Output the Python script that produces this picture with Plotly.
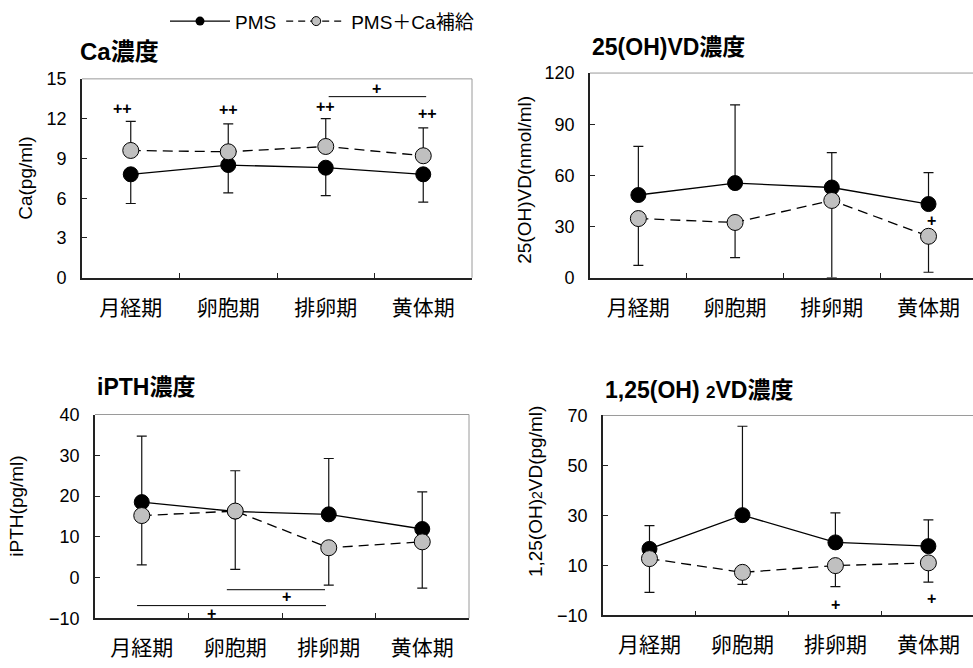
import plotly.graph_objects as go

# ---------------- data ----------------
phases = ["月経期", "卵胞期", "排卵期", "黄体期"]

# Ca
ca_pms = [7.8, 8.5, 8.3, 7.8]
ca_pms_sd = [2.2, 2.1, 2.1, 2.1]
ca_sup = [9.6, 9.5, 9.9, 9.2]
ca_sup_sd = [2.2, 2.1, 2.1, 2.1]

# 25(OH)VD
vd_pms = [48.5, 55.5, 52.9, 43.2]
vd_pms_sd = [28.5, 45.9, 20.5, 18.4]
vd_sup = [34.7, 32.4, 45.3, 24.3]
vd_sup_sd = [27.5, 20.6, 45.3, 21.1]

# iPTH
pth_pms = [18.5, 16.2, 15.5, 11.9]
pth_pms_sd = [16.2, 10.0, 13.7, 9.1]
pth_sup = [15.2, 16.3, 7.3, 8.75]
pth_sup_sd = [12.1, 14.3, 9.2, 11.35]

# 1,25(OH)2VD
dvd_pms = [16.6, 30.1, 19.2, 17.7]
dvd_pms_sd = [9.3, 35.6, 11.8, 10.5]
dvd_sup = [12.7, 7.2, 9.9, 11.0]
dvd_sup_sd = [13.5, 4.8, 8.4, 7.7]

# significance marks (text, x index, y value)
ca_marks = [("++", -0.08, 12.8), ("++", 1.0, 12.66), ("++", 2.0, 12.9), ("++", 3.04, 12.4), ("+", 2.52, 14.27)]
ca_brackets = [(2.03, 3.03, 13.66)]
vd_marks = [("+", 3.03, 33.4)]
pth_marks = [("+", 1.55, -4.7), ("+", 0.75, -8.9)]
pth_brackets = [(0.91, 1.96, -3.0), (-0.05, 1.97, -6.9)]
dvd_marks = [("+", 2.0, -5.5), ("+", 3.03, -3.4)]

W, H = 973, 668
FONT = "Liberation Sans, Noto Sans CJK JP, sans-serif"

def px(x):
    return x / W

def py(y):
    return 1 - y / H

fig = go.Figure()

panels = [
    ("x", "y", ca_pms, ca_pms_sd, "down", ca_sup, ca_sup_sd, "up"),
    ("x2", "y2", vd_pms, vd_pms_sd, "up", vd_sup, vd_sup_sd, "down"),
    ("x3", "y3", pth_pms, pth_pms_sd, "up", pth_sup, pth_sup_sd, "down"),
    ("x4", "y4", dvd_pms, dvd_pms_sd, "up", dvd_sup, dvd_sup_sd, "down"),
]

def err(sd, direction):
    zeros = [0] * len(sd)
    if direction == "up":
        return dict(type="data", symmetric=False, array=sd, arrayminus=zeros,
                    color="#111", thickness=1.2, width=5)
    return dict(type="data", symmetric=False, array=zeros, arrayminus=sd,
                color="#111", thickness=1.2, width=5)

for xa, ya, pv, psd, pdir, sv, ssd, sdir in panels:
    fig.add_trace(go.Scatter(
        x=phases, y=pv, xaxis=xa, yaxis=ya, mode="lines+markers",
        line=dict(color="#000", width=1.3),
        marker=dict(size=15, color="#000", line=dict(color="#000", width=1)),
        error_y=err(psd, pdir), showlegend=False, cliponaxis=False))
    fig.add_trace(go.Scatter(
        x=phases, y=sv, xaxis=xa, yaxis=ya, mode="lines+markers",
        line=dict(color="#000", width=1.3, dash="10px,6px"),
        marker=dict(size=16, color="#c0c0c0", line=dict(color="#000", width=1)),
        error_y=err(ssd, sdir), showlegend=False, cliponaxis=False))

# legend-only entries
fig.add_trace(go.Scatter(x=[None], y=[None], mode="lines+markers", name="PMS",
                         line=dict(color="#000", width=1.3),
                         marker=dict(size=9, color="#000")))
fig.add_trace(go.Scatter(x=[None], y=[None], mode="lines+markers", name="PMS＋Ca補給",
                         line=dict(color="#000", width=1.3, dash="7px,5px"),
                         marker=dict(size=9, color="#c0c0c0", line=dict(color="#000", width=1))))

axis_common = dict(showline=True, linecolor="#222", linewidth=1.6, ticks="inside",
                   ticklen=5, tickcolor="#222", showgrid=False, zeroline=False,
                   tickfont=dict(size=18, color="#000"))

dom = {
    "1": dict(x=[px(82), px(472)], y=[py(276), py(71)], xr=[-0.5, 3.5], yr=[0, 15], dt=3),
    "2": dict(x=[px(590), 1.0], y=[py(276), py(65)], xr=[-0.5, 3.46], yr=[0, 120], dt=30),
    "3": dict(x=[px(95), px(469)], y=[py(627), py(417)], xr=[-0.5, 3.5], yr=[-10, 40], dt=10),
    "4": dict(x=[px(603), 1.0], y=[py(624), py(418)], xr=[-0.5, 3.48], yr=[-10, 70], dt=20),
}

for k, d in dom.items():
    sfx = "" if k == "1" else k
    fig.layout["xaxis" + sfx] = dict(axis_common, domain=d["x"], range=d["xr"],
                                     type="category", tickson="boundaries",
                                     anchor="y" + sfx, ticklabelstandoff=10,
                                     tickfont=dict(size=21, color="#000"))
    fig.layout["yaxis" + sfx] = dict(axis_common, domain=d["y"], range=d["yr"],
                                     dtick=d["dt"], tick0=d["yr"][0],
                                     anchor="x" + sfx, ticklabelstandoff=10)
    xref = "x" + sfx + " domain"
    yref = "y" + sfx + " domain"
    fig.add_shape(type="line", xref=xref, yref=yref, x0=0, x1=1, y0=1, y1=1,
                  line=dict(color="#9a9a9a", width=1))
    if k in ("1", "3"):
        fig.add_shape(type="line", xref=xref, yref=yref, x0=1, x1=1, y0=0, y1=1,
                      line=dict(color="#9a9a9a", width=1))

# titles
titles = [
    ("Ca濃度", 78, 43, 24),
    ("25(OH)VD濃度", 590, 38, 23),
    ("iPTH濃度", 95, 389, 23),
    ("1,25(OH) <span style='font-size:17px'>2</span>VD濃度", 603, 392, 23),
]
for t, x, y, s in titles:
    fig.add_annotation(text="<b>" + t + "</b>", x=px(x), y=py(y), xref="paper", yref="paper",
                       xanchor="left", yanchor="middle", showarrow=False,
                       font=dict(size=s, color="#000"))

# y-axis titles
ytitles = [
    ("Ca(pg/ml)", 26, 174),
    ("25(OH)VD(nmol/ml)", 525, 175),
    ("iPTH(pg/ml)", 17, 512),
    ("1,25(OH)<span style='font-size:14px'>2</span>VD(pg/ml)", 535, 497),
]
for t, x, y in ytitles:
    fig.add_annotation(text=t, x=px(x), y=py(y), xref="paper", yref="paper",
                       xanchor="center", yanchor="middle", showarrow=False,
                       textangle=-90, font=dict(size=19, color="#000"))

# significance marks
def add_marks(marks, sfx):
    for t, x, y in marks:
        fig.add_annotation(text="<b>" + t + "</b>", x=x, y=y, xref="x" + sfx, yref="y" + sfx,
                           showarrow=False, font=dict(size=16, color="#000"))

def add_brackets(brs, sfx):
    for x0, x1, y in brs:
        fig.add_shape(type="line", xref="x" + sfx, yref="y" + sfx, x0=x0, x1=x1, y0=y, y1=y,
                      line=dict(color="#000", width=1))

add_marks(ca_marks, "")
add_brackets(ca_brackets, "")
add_marks(vd_marks, "2")
add_marks(pth_marks, "3")
add_brackets(pth_brackets, "3")
add_marks(dvd_marks, "4")

fig.update_layout(
    width=W, height=H, margin=dict(l=0, r=0, t=0, b=0),
    paper_bgcolor="white", plot_bgcolor="white",
    font=dict(family=FONT, color="#000"),
    showlegend=True,
    legend=dict(orientation="h", x=px(165), y=py(-8), xanchor="left", yanchor="top",
                font=dict(size=19), itemwidth=60, bgcolor="rgba(0,0,0,0)",
                tracegroupgap=0, itemclick=False),
)

fig.write_html("out.html", post_script="document.body.style.margin='0';",
               config={"displayModeBar": False})
